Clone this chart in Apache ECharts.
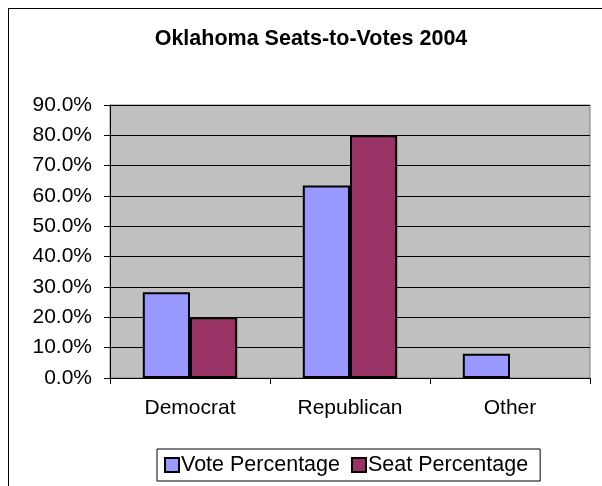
<!DOCTYPE html>
<html>
<head>
<meta charset="utf-8">
<script src="https://cdn.jsdelivr.net/npm/echarts@6/dist/echarts.min.js"></script>
<style>
html,body{margin:0;padding:0;background:#fff;overflow:hidden;}
#frame{position:absolute;left:8px;top:8px;width:620px;height:520px;border:1px solid #000;box-sizing:border-box;}
#chart{position:absolute;left:0;top:0;width:602px;height:486px;}
</style>
</head>
<body>
<div id="frame"></div>
<div id="chart"></div>
<script>
var titleText = 'Oklahoma Seats-to-Votes 2004';
var categories = ['Democrat', 'Republican', 'Other'];
var seriesNames = ['Vote Percentage', 'Seat Percentage'];
var votePercentage = [28.3, 63.5, 8.0];
var seatPercentage = [20.0, 80.0, 0];
var yTicks = [0, 10, 20, 30, 40, 50, 60, 70, 80, 90];

function toBarData(values) {
  return values.map(function (v) {
    return v === 0 ? {value: v, itemStyle: {borderWidth: 0}} : v;
  });
}

var chart = echarts.init(document.getElementById('chart'), null, {renderer: 'canvas'});
var font = 'Liberation Sans, Arial, sans-serif';
chart.setOption({
  animation: false,
  backgroundColor: 'transparent',
  title: {
    text: titleText,
    left: 306,
    top: 23,
    textAlign: 'center',
    textStyle: {fontFamily: font, fontSize: 21.5, fontWeight: 'bold', color: '#000'}
  },
  legend: {
    data: seriesNames,
    left: 157,
    top: 449,
    padding: [5, 12, 5, 7],
    borderColor: '#000',
    borderWidth: 1,
    itemWidth: 14,
    itemHeight: 14,
    itemGap: 11,
    icon: 'rect',
    textStyle: {fontFamily: font, fontSize: 21.5, color: '#000', padding: [0, 0, 0, -3]},
    itemStyle: {borderColor: '#000', borderWidth: 2}
  },
  grid: {left: 110, right: 12, top: 105, bottom: 108, show: true, backgroundColor: '#C0C0C0', borderColor: '#808080', borderWidth: 1},
  xAxis: {
    type: 'category',
    data: categories,
    axisLine: {lineStyle: {color: '#000', width: 1}},
    axisTick: {show: true, length: 6, lineStyle: {color: '#000'}},
    axisLabel: {fontFamily: font, fontSize: 21, color: '#000', margin: 20}
  },
  yAxis: {
    type: 'value',
    min: yTicks[0],
    max: yTicks[yTicks.length - 1],
    interval: 10,
    axisLine: {show: true, lineStyle: {color: '#000', width: 1}},
    axisTick: {show: true, length: 6, lineStyle: {color: '#000'}},
    splitLine: {show: true, lineStyle: {color: '#000', width: 1}},
    axisLabel: {fontFamily: font, fontSize: 21, color: '#000', margin: 18,
      formatter: function (v) { return v.toFixed(1) + '%'; }}
  },
  series: [
    {
      name: seriesNames[0],
      type: 'bar',
      data: toBarData(votePercentage),
      barGap: '0%',
      barCategoryGap: '41%',
      itemStyle: {color: '#9999FF', borderColor: '#000', borderWidth: 2}
    },
    {
      name: seriesNames[1],
      type: 'bar',
      data: toBarData(seatPercentage),
      barGap: '0%',
      barCategoryGap: '41%',
      itemStyle: {color: '#993366', borderColor: '#000', borderWidth: 2}
    }
  ]
});
</script>
</body>
</html>
